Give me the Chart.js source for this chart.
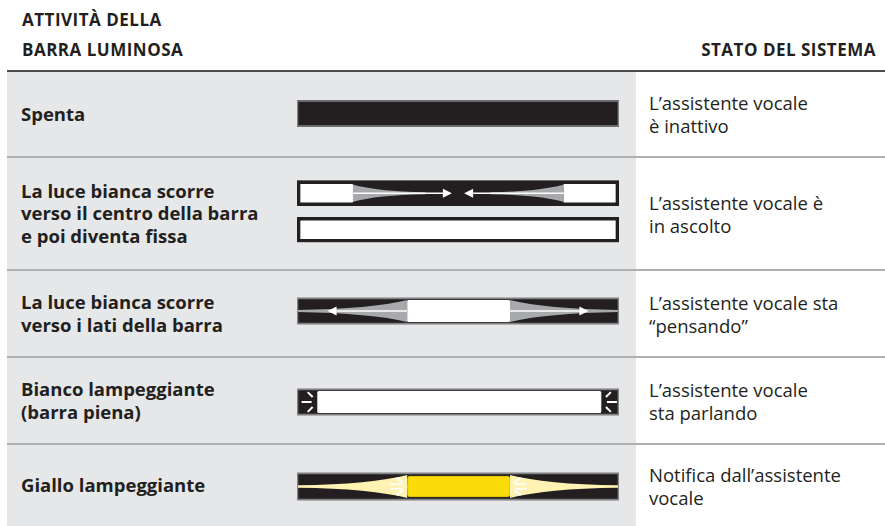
<!DOCTYPE html>
<html><head><meta charset="utf-8">
<script src="https://cdn.jsdelivr.net/npm/chart.js@4.4.1/dist/chart.umd.min.js"></script>
<style>
html,body{margin:0;padding:0;background:#fff;}
#page{position:relative;width:885px;height:526px;overflow:hidden;font-family:"Open Sans",sans-serif;color:#231f20;}
.hdr{position:absolute;font-weight:700;font-size:17px;line-height:30px;letter-spacing:0.5px;white-space:nowrap;}
#hl{left:22px;top:5px;}
#hr{right:9px;top:35px;}
#rule{position:absolute;left:7px;right:0;top:70px;height:2px;background:#4d4d4f;}
#gray{position:absolute;left:7px;width:629px;top:72px;bottom:0;background:#e6e7e8;}
.sep{position:absolute;left:7px;right:0;height:2px;background:#adafb1;}
.row{position:absolute;left:0;width:885px;}
.act{position:absolute;left:21px;top:0;bottom:0;display:flex;align-items:center;font-weight:700;font-size:18.5px;line-height:22.5px;white-space:nowrap;}
.st{position:absolute;left:649px;top:0;bottom:0;display:flex;align-items:center;font-size:18.5px;line-height:23px;white-space:nowrap;}
.row canvas{position:absolute;left:297px;top:0;}
</style></head>
<body>
<div id="page">
  <div class="hdr" id="hl">ATTIVITÀ DELLA<br>BARRA LUMINOSA</div>
  <div class="hdr" id="hr">STATO DEL SISTEMA</div>
  <div id="rule"></div>
  <div id="gray"></div>
</div>
<script>
// ---------- data ----------
const activities = [
  ["Spenta"],
  ["La luce bianca scorre", "verso il centro della barra", "e poi diventa fissa"],
  ["La luce bianca scorre", "verso i lati della barra"],
  ["Bianco lampeggiante", "(barra piena)"],
  ["Giallo lampeggiante"]
];
const states = [
  ["L’assistente vocale", "è inattivo"],
  ["L’assistente vocale è", "in ascolto"],
  ["L’assistente vocale sta", "“pensando”"],
  ["L’assistente vocale", "sta parlando"],
  ["Notifica dall’assistente", "vocale"]
];
// one entry per light-bar illustration (row 2 has two)
const barRow   = [0, 1, 1, 2, 3, 4];
const barBase  = ["off", "off", "on", "off", "off", "off"];
const barRange = [[0, 100], [0, 100], [0, 100], [0, 100], [0, 100], [0, 100]];
// lit segments, % of bar length
const litA     = [null, [0, 17.3], null, [34.3, 66.1], [6.4, 94.4], [34.3, 66.1]];
const litB     = [null, [82.9, 100], null, null, null, null];
const litColor = [null, "white", "white", "white", "white", "yellow"];
// light motion: beams [from, to], arrows [from, tip], flashes [edge, direction]
const beams    = [[], [[17.3, 40], [82.9, 60]], [], [[34.3, 0], [66.1, 100]], [], [[34.3, 0], [66.1, 100]]];
const arrows   = [[], [[17.3, 48.1], [82.9, 51.9]], [], [[34.3, 9.5], [66.1, 90.5]], [], []];
const flashes  = [[], [], [], [], [[6.4, -1], [94.4, 1]], [[34.3, -1], [66.1, 1]]];
const guide    = [false, false, false, true, false, true];

// ---------- layout / style ----------
const rowTop = [72, 158, 271, 358, 445];
const rowH   = [84, 111, 85, 85, 81];
const padT   = [0, 17, 0, 3, 2];
const padB   = [1, 21, 5, 0, 0];
const sepY   = [156, 269, 356, 443];
const baseThick = [26, 25, 26, 26, 27];
const litThick  = [22, 19, 21.5, 21.5, 21];
const frameColor = ["#808285", "#231f20", "#231f20", "#808285", "#808285", "#808285"];
const frameWidth = [1, 3, 3, 1, 1, 1];
const DARK = "#231f20";
const LIGHT = { white: "#ffffff", yellow: "#fbdc0a" };
const LIGHT_EDGE = { white: "#ffffff", yellow: "#dcc000" };
const BEAM = { white: "#a7a9ac", yellow: "#fff2b2" };

const page = document.getElementById("page");
sepY.forEach(y => {
  const d = document.createElement("div");
  d.className = "sep"; d.style.top = y + "px"; page.appendChild(d);
});

const fxPlugin = {
  id: "fx",
  afterDatasetsDraw(chart, args, opts) {
    const ctx = chart.ctx, xs = chart.scales.x;
    const meta = chart.getDatasetMeta(3);
    const px = v => xs.getPixelForValue(v);
    opts.bars.forEach((b, k) => {
      const el = meta.data[k];
      if (!el) return;
      const fw = frameWidth[b];
      const yc = el.y;
      const top = yc - el.height / 2 + fw, bot = yc + el.height / 2 - fw;
      const L = px(0) + fw, R = px(100) - fw;
      const hh = (bot - top) / 2;
      const col = BEAM[litColor[b]] || BEAM.white;
      ctx.save();
      // clip to the bar interior, leaving the lit segments untouched
      ctx.beginPath();
      ctx.rect(L, top, R - L, bot - top);
      [litA[b], litB[b]].forEach(seg => {
        if (seg) ctx.rect(px(seg[0]), top, px(seg[1]) - px(seg[0]), bot - top);
      });
      ctx.clip("evenodd");
      if (guide[b]) { ctx.fillStyle = col; ctx.fillRect(L, yc - 1, R - L, 2); }
      beams[b].forEach(([f, t]) => {
        const xe = px(f), xt = px(t), he = hh * 0.92;
        const cx = xe + (xt - xe) * 0.33;
        ctx.beginPath();
        ctx.moveTo(xe, yc - he);
        ctx.quadraticCurveTo(cx, yc - he * 0.2, xt, yc - 1);
        ctx.lineTo(xt, yc + 1);
        ctx.quadraticCurveTo(cx, yc + he * 0.2, xe, yc + he);
        ctx.closePath();
        ctx.fillStyle = col; ctx.fill();
      });
      arrows[b].forEach(([f, t]) => {
        const xe = px(f), xt = px(t), d = Math.sign(xt - xe), head = 9;
        ctx.strokeStyle = "#fff"; ctx.lineWidth = 1.6;
        ctx.beginPath(); ctx.moveTo(xe, yc); ctx.lineTo(xt - d * head, yc); ctx.stroke();
        ctx.fillStyle = "#fff";
        ctx.beginPath(); ctx.moveTo(xt, yc); ctx.lineTo(xt - d * head, yc - 4.5); ctx.lineTo(xt - d * head, yc + 4.5); ctx.closePath(); ctx.fill();
      });
      flashes[b].forEach(([f, d]) => {
        const xe = px(f);
        const yellow = litColor[b] === "yellow";
        const a = yellow ? 0.68 : 0.785;
        ctx.strokeStyle = "#fff"; ctx.lineWidth = 2; ctx.lineCap = "butt";
        const r1 = yellow ? 6 : 7, r2 = 14;
        [-1, 1].forEach(s => {
          ctx.beginPath();
          ctx.moveTo(xe + d * r1 * Math.cos(a), yc + s * r1 * Math.sin(a));
          ctx.lineTo(xe + d * r2 * Math.cos(a), yc + s * r2 * Math.sin(a));
          ctx.stroke();
        });
        const h1 = yellow ? 5 : 6, h2 = yellow ? 17 : 16;
        const offs = yellow ? [-2.2, 2.2] : [0];
        ctx.lineWidth = yellow ? 1.6 : 2;
        offs.forEach(o => {
          ctx.beginPath(); ctx.moveTo(xe + d * h1, yc + o); ctx.lineTo(xe + d * h2, yc + o); ctx.stroke();
        });
      });
      ctx.restore();
    });
  }
};

for (let r = 0; r < rowTop.length; r++) {
  const row = document.createElement("div");
  row.className = "row";
  row.style.top = rowTop[r] + "px"; row.style.height = rowH[r] + "px";
  const act = document.createElement("div"); act.className = "act";
  act.innerHTML = "<div>" + activities[r].join("<br>") + "</div>";
  const st = document.createElement("div"); st.className = "st";
  st.innerHTML = "<div>" + states[r].join("<br>") + "</div>";
  const cv = document.createElement("canvas");
  cv.width = 322; cv.height = rowH[r];
  cv.style.width = "322px"; cv.style.height = rowH[r] + "px";
  row.appendChild(act); row.appendChild(cv); row.appendChild(st);
  page.appendChild(row);

  const idx = barRow.map((rr, i) => rr === r ? i : -1).filter(i => i >= 0);
  const thickB = baseThick[r], thickL = litThick[r];
  new Chart(cv, {
    type: "bar",
    data: {
      labels: idx.map(i => "barra " + (i + 1)),
      datasets: [
        { label: "cornice", data: idx.map(i => barRange[i]), backgroundColor: "rgba(0,0,0,0)",
          borderColor: idx.map(i => frameColor[i]), borderWidth: idx.map(i => frameWidth[i]),
          borderSkipped: false, barThickness: thickB, grouped: false, order: 0 },
        { label: "luce A", data: idx.map(i => litA[i]),
          backgroundColor: idx.map(i => LIGHT[litColor[i]] || "#fff"),
          borderColor: idx.map(i => LIGHT_EDGE[litColor[i]] || "#fff"),
          borderWidth: idx.map(i => litColor[i] === "yellow" ? 1 : 0),
          borderRadius: idx.map(i => litColor[i] === "yellow" ? 3 : 1.5),
          borderSkipped: false, barThickness: thickL, grouped: false, order: 1 },
        { label: "luce B", data: idx.map(i => litB[i]),
          backgroundColor: idx.map(i => LIGHT[litColor[i]] || "#fff"),
          borderWidth: 0, borderSkipped: false, barThickness: thickL, grouped: false, order: 2 },
        { label: "base", data: idx.map(i => barRange[i]),
          backgroundColor: idx.map(i => barBase[i] === "on" ? "#ffffff" : DARK),
          borderWidth: 0, barThickness: thickB, grouped: false, order: 3 }
      ]
    },
    options: {
      indexAxis: "y",
      responsive: false,
      animation: false,
      events: [],
      layout: { padding: { top: padT[r], bottom: padB[r], left: 0, right: 0 } },
      scales: {
        x: { type: "linear", min: 0, max: 100, display: false },
        y: { type: "category", display: false }
      },
      plugins: { legend: { display: false }, tooltip: { enabled: false }, fx: { bars: idx } }
    },
    plugins: [fxPlugin]
  });
}
</script>
</body></html>
